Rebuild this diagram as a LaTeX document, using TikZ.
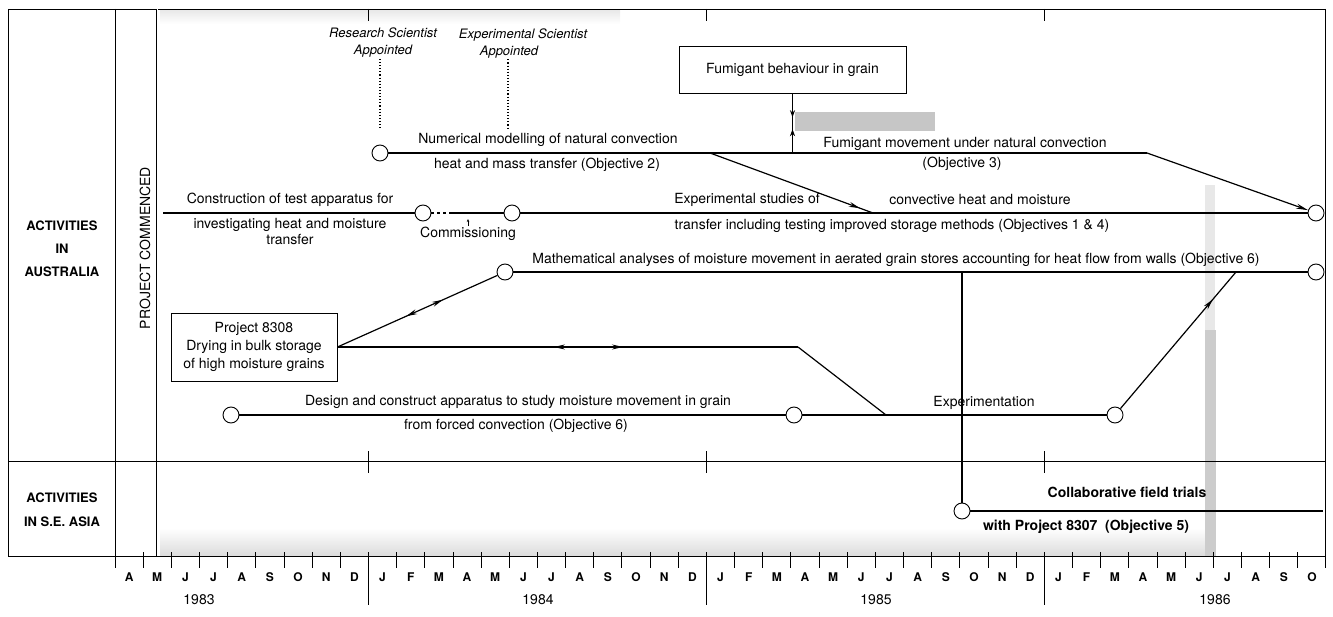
\documentclass[tikz,border=0pt]{standalone}
\usepackage{fontspec}
\setmainfont{TeX Gyre Heros}
\usetikzlibrary{arrows.meta,decorations.markings}

\begin{document}
\begin{tikzpicture}[
    x=1pt, y=-1pt,
    font=\fontsize{14}{16}\selectfont,
    rule/.style={line width=0.9pt},
    track/.style={line width=1.2pt},
    milestone/.style={circle, draw, line width=0.9pt, fill=white, minimum size=16pt, inner sep=0pt},
    txt/.style={inner sep=1pt, align=center},
    note/.style={inner sep=1pt, align=center, font=\fontsize{13}{17}\selectfont\itshape},
    box/.style={rectangle, draw, line width=0.9pt, fill=white, align=center},
    month/.style={font=\fontsize{12}{14}\selectfont\bfseries},
    year/.style={font=\fontsize{14}{16}\selectfont},
    tip/.style={-{Stealth[length=12pt,width=5pt]}},
    midarrow/.style={postaction={decorate, decoration={markings, mark=at position #1 with {\arrow{Stealth[length=11pt,width=5pt]}}}}},
    backarrow/.style={postaction={decorate, decoration={markings, mark=at position #1 with {\arrowreversed{Stealth[length=11pt,width=5pt]}}}}},
    smalltips/.style={postaction={decorate, decoration={markings,
        mark=at position 0.4 with {\arrow{Stealth[length=7pt,width=5pt]}},
        mark=at position 0.6 with {\arrowreversed{Stealth[length=7pt,width=5pt]}}}}}
]

\useasboundingbox (0,0) rectangle (1333,617);

% Scan shading
\shade[top color=gray!18, bottom color=white] (160,10) rectangle (620,24);
\shade[top color=white, bottom color=gray!28] (160,528) rectangle (1205,556);
\fill[gray!45] (795,112) rectangle (935,131);
\fill[gray!18] (1205,185) rectangle (1215,330);
\fill[gray!40] (1205,330) rectangle (1216,556);

% Frame
\draw[rule] (8,9) -- (1325,9);
\draw[rule] (8,9) -- (8,556);
\draw[rule] (1325,9) -- (1325,568);
\draw[rule] (115,9) -- (115,568);
\draw[rule, double, double distance=1pt] (157,9) -- (157,556);
\draw[rule] (8,461) -- (1325,461);
\draw[rule] (8,556) -- (1325,556);

% Month axis
\foreach \i in {1,...,42} \draw[rule] ({115+28.163*\i},552) -- ++(0,16);
\foreach \i in {9,21,33} {
  \draw[rule] ({115+28.163*\i},9) -- ++(0,12);
  \draw[rule] ({115+28.163*\i},451) -- ++(0,22);
  \draw[rule] ({115+28.163*\i},556) -- ++(0,49);
}
\foreach \m [count=\i from 0] in {A,M,J,J,A,S,O,N,D,J,F,M,A,M,J,J,A,S,O,N,D,J,F,M,A,M,J,J,A,S,O,N,D,J,F,M,A,M,J,J,A,S,O}
  \node[month] (mon\i) at ({115+28.163*(\i+0.5)},577) {\m};

% Years
\node[year] (y83) at (199,600) {1983};
\node[year] (y84) at (538,600) {1984};
\node[year] (y85) at (876,600) {1985};
\node[year] (y86) at (1215,600) {1986};

% Side labels
\node[txt, font=\fontsize{13}{23}\selectfont\bfseries] (aus) at (62,249) {ACTIVITIES\\IN\\AUSTRALIA};
\node[txt, font=\fontsize{13}{24}\selectfont\bfseries] (asia) at (62,510) {ACTIVITIES\\IN S.E. ASIA};
\node[txt, rotate=90] (start) at (145,248) {PROJECT COMMENCED};

% Milestones
\node[milestone] (rs) at (380,153) {};
\node[milestone] (cA) at (423,213) {};
\node[milestone] (cB) at (512,213) {};
\node[milestone] (endA) at (1316,213) {};
\node[milestone] (ma) at (505,272) {};
\node[milestone] (maend) at (1316,272) {};
\node[milestone] (ds) at (231,415) {};
\node[milestone] (dsend) at (794,415) {};
\node[milestone] (exend) at (1115,415) {};
\node[milestone] (sea) at (962,511) {};

% Appointments
\node[note] (rsnote) at (383,43) {Research Scientist\\Appointed};
\node[note] (esnote) at (523,35) {Experimental Scientist};
\node[note] (esnote2) at (509,52) {Appointed};
\coordinate (rsdot) at (380,128);
\coordinate (esdot) at (508,128);
\draw[dotted, line width=1.1pt] (rsnote.south -| rsdot) -- (rsdot);
\draw[dotted, line width=1.1pt] (esnote2.south -| esdot) -- (esdot);

% Boxes
\node[box, minimum width=227pt, minimum height=47pt] (fbox) at (792.5,69.5) {Fumigant behaviour in grain};
\node[box, minimum width=166pt, minimum height=68pt, font=\fontsize{14}{18}\selectfont] (pbox) at (254,347) {Project 8308\\Drying in bulk storage\\of high moisture grains};

% Junctions
\coordinate (split) at (710,153);
\coordinate (merge) at (873,213);
\coordinate (fj) at (fbox.south |- rs);
\coordinate (fend) at (1147,153);
\coordinate (cstart) at (163,213);
\coordinate (cdash) at (450,213);
\coordinate (vj) at (962,272);
\coordinate (mj) at (1236,272);
\coordinate (pj) at (798,347);
\coordinate (pm) at (886,415);
\coordinate (seaend) at (1323,511);

% Natural convection and fumigant tracks
\draw[track] (rs) -- (split);
\draw[track, line width=1.7pt] (split) -- (fend);
\draw[track, midarrow=0.92] (split) -- (merge);
\draw[track, tip] (fend) -- (endA);
\draw[track, smalltips] (fbox.south) -- (fj);

% Test apparatus track
\draw[track] (cstart) -- (cA);
\draw[track, dash pattern=on 3pt off 3pt] (cA) -- (cdash);
\draw[track] (cdash) -- (cB);
\draw[track] (cB) -- (endA);

% Mathematical analyses track
\draw[track] (ma) -- (maend);
\draw[track] (vj) -- (sea);
\draw[track, midarrow=0.8] (exend) -- (mj);

% Project 8308 links
\draw[track, backarrow=0.43, midarrow=0.66] (pbox.east) -- (ma);
\draw[track, backarrow=0.47, midarrow=0.62] (pbox.east) -- (pj);
\draw[track] (pj) -- (pm);

% Forced convection track
\draw[track] (ds) -- (dsend);
\draw[track] (dsend) -- (exend);

% S.E. Asia track
\draw[track] (sea) -- (seaend);

% Track labels
\node[txt] (nm1) at (548,140) {Numerical modelling of natural convection};
\node[txt] (nm2) at (547,165) {heat and mass transfer (Objective 2)};
\node[txt] (fm1) at (965,144) {Fumigant movement under natural convection};
\node[txt] (fm2) at (962,164) {(Objective 3)};
\node[txt] (ct1) at (290,200) {Construction of test apparatus for};
\node[txt, font=\fontsize{14}{16}\selectfont] (ct2) at (290,232) {investigating heat and moisture\\transfer};
\node[txt] (comm) at (468,234) {Commissioning};
\draw[-{Stealth[length=3pt,width=2.5pt]}, line width=0.5pt] (comm.north) -- ++(0,-7);
\node[txt] (es1) at (747,200) {Experimental studies of};
\node[txt] (es2) at (980,200) {convective heat and moisture};
\node[txt] (es3) at (892,226) {transfer including testing improved storage methods (Objectives 1 \& 4)};
\node[txt] (ma1) at (896,260) {Mathematical analyses of moisture movement in aerated grain stores accounting for heat flow from walls (Objective 6)};
\node[txt] (dc1) at (518,402) {Design and construct apparatus to study moisture movement in grain};
\node[txt] (dc2) at (516,426) {from forced convection (Objective 6)};
\node[txt] (exp) at (984,403) {Experimentation};
\node[txt, font=\fontsize{14}{16}\selectfont\bfseries] (cf1) at (1127,492) {Collaborative field trials};
\node[txt, font=\fontsize{14}{16}\selectfont\bfseries] (cf2) at (1086,527) {with Project 8307~~(Objective 5)};

\end{tikzpicture}
\end{document}
